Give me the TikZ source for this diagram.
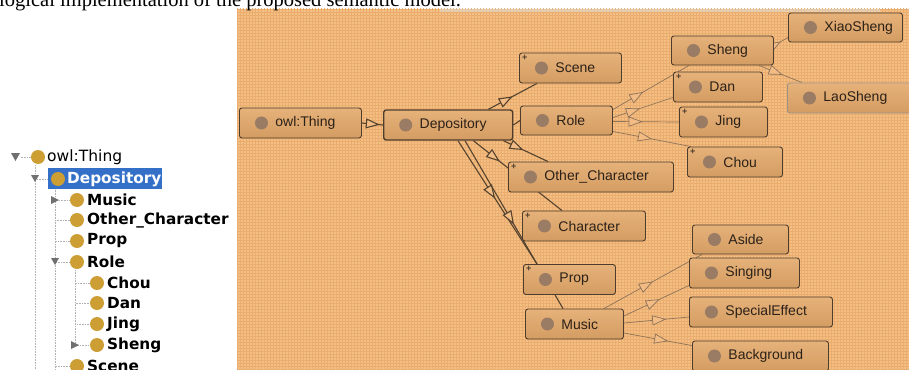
\documentclass[tikz,border=0pt]{standalone}
\usepackage{fontspec}
\usepackage{tikz}
\usetikzlibrary{arrows.meta,calc,decorations.markings,patterns,backgrounds}
\newfontfamily\capfont{Liberation Serif}
\newfontfamily\treefont{DejaVu Sans}
\newfontfamily\boxfont{Liberation Sans}
\definecolor{panelorange}{HTML}{F5BE82}
\definecolor{gridorange}{HTML}{E9AD70}
\definecolor{boxtop}{HTML}{E6B27A}
\definecolor{boxbot}{HTML}{D39C62}
\definecolor{boxline}{HTML}{4E3C2C}
\definecolor{boxtext}{HTML}{2C2118}
\definecolor{dotbrown}{HTML}{9A7C64}
\definecolor{linkdark}{HTML}{55432F}
\definecolor{linklight}{HTML}{8E735A}
\definecolor{trifill}{HTML}{F2BC84}
\definecolor{treegold}{HTML}{CC9E33}
\definecolor{selblue}{HTML}{3470C8}
\definecolor{treegray}{HTML}{707070}

\begin{document}
\begin{tikzpicture}[
  x=1pt, y=-1pt,
  ogbox/.style={
    draw=boxline,
    top color=boxtop,
    bottom color=boxbot,
    rounded corners=2.5pt,
    line width=0.9pt,
    anchor=west,
    minimum height=30pt,
    inner xsep=0pt,
    text width=#1,
    align=left,
    font=\boxfont\fontsize{14}{16}\selectfont,
    text=boxtext,
    execute at begin node={\hspace*{36pt}},
    path picture={
      \fill[dotbrown] ([xshift=22pt]path picture bounding box.west) circle (6.5pt);
    }
  },
  plusbox/.style={
    label={[anchor=north west, inner sep=1pt, xshift=2pt, yshift=-1pt,
            font=\boxfont\bfseries\fontsize{9}{9}\selectfont, text=boxline]north west:+}
  },
  isa/.style={
    draw=linkdark,
    line width=1.1pt,
    postaction={decorate},
    decoration={markings,
      mark=at position #1 with {\arrow{Triangle[width=10pt,length=14pt,fill=trifill]}}}
  },
  isa/.default=0.5,
  isalight/.style={isa=#1, draw=linklight, line width=0.7pt},
  isalight/.default=0.5,
  tdot/.style={circle, fill=treegold, minimum size=14pt, inner sep=0pt},
  tlbl/.style={anchor=west, inner sep=0pt, text=black,
    font=\treefont\bfseries\fontsize{15.3}{17}\selectfont},
  tline/.style={draw=gray!60, densely dotted, line width=0.6pt}
]
\useasboundingbox (0,0) rectangle (909,369);
\clip (0,0) rectangle (909,369);

% caption line cut at the top
\node[anchor=base west, inner sep=0pt, font=\capfont\fontsize{20.5}{22}\selectfont]
  (caption) at (-1,7) {logical implementation of the proposed semantic model.};

% ---------------- class tree (left) ----------------
\coordinate (vthing) at (35,165);
\coordinate (vthingend) at (35,369);
\coordinate (vdep) at (55,188);
\coordinate (vdepend) at (55,369);
\coordinate (vrole) at (75,270);

\fill[selblue] (48,168) rectangle (162,189);

\node[tdot] (tthing) at (38,157) {};
\node[tlbl, font=\treefont\fontsize{15.5}{17}\selectfont] (tthinglbl) at (47,157) {owl:Thing};
\node[tdot] (tdep) at (58,179) {};
\node[tlbl, text=white] (tdeplbl) at (67,179) {Depository};

\node[tdot] (tmusic) at (77,200) {};
\node[tlbl] (tmusiclbl) at (87,200) {Music};
\node[tdot] (tother) at (77,220) {};
\node[tlbl] (totherlbl) at (87,220) {Other\_Character};
\node[tdot] (tprop) at (77,241) {};
\node[tlbl] (tproplbl) at (87,241) {Prop};
\node[tdot] (trole) at (77,262) {};
\node[tlbl] (trolelbl) at (87,262) {Role};
\node[tdot] (tchou) at (97,283) {};
\node[tlbl] (tchoulbl) at (107,283) {Chou};
\node[tdot] (tdan) at (97,303) {};
\node[tlbl] (tdanlbl) at (107,303) {Dan};
\node[tdot] (tjing) at (97,324) {};
\node[tlbl] (tjinglbl) at (107,324) {Jing};
\node[tdot] (tsheng) at (97,345) {};
\node[tlbl] (tshenglbl) at (107,345) {Sheng};
\node[tdot] (tscene) at (77,366) {};
\node[tlbl] (tscenelbl) at (87,366) {Scene};

\begin{scope}[on background layer]
\draw[tline] (tthing.west) -- ++(-11,0);
\draw[tline] (vthing) -- (vthingend);
\draw[tline] (vthing) |- (tdep.west);
\draw[tline] (vdep) -- (vdepend);
\foreach \k in {tmusic,tother,tprop,trole,tscene}
  \draw[tline] (vdep) |- (\k.west);
\draw[tline] (vrole) -- (vrole |- tsheng);
\foreach \k in {tchou,tdan,tjing,tsheng}
  \draw[tline] (vrole) |- (\k.west);
\end{scope}

% expand / collapse handles
\fill[treegray] (11,153) -- (20,153) -- (15.5,161) -- cycle;
\fill[treegray] (31,175) -- (39,175) -- (35,182) -- cycle;
\fill[treegray] (51,196) -- (59,200) -- (51,204) -- cycle;
\fill[treegray] (51,258) -- (59,258) -- (55,265) -- cycle;
\fill[treegray] (71,341) -- (79,345) -- (71,349) -- cycle;

% ---------------- OntoGraf view (right) ----------------
\begin{scope}[on background layer]
\fill[panelorange] (237,9) rectangle (909,369);
\fill[pattern=grid, pattern color=gridorange] (237,9) rectangle (909,369);
\fill[gray!25, opacity=0.5] (440,9) rectangle (880,12);
\end{scope}

% class boxes
\node[ogbox=122pt] (thing) at (239,123) {owl:Thing};
\node[ogbox=129pt, line width=1.4pt] (dep) at (383,125) {Depository};
\node[ogbox=102pt, plusbox] (scene) at (519,68) {Scene};
\node[ogbox=92pt, minimum height=29pt] (role) at (520,120.5) {Role};
\node[ogbox=165pt, plusbox] (other) at (508,177) {Other\_Character};
\node[ogbox=123pt, plusbox] (char) at (522,226) {Character};
\node[ogbox=92pt, plusbox] (prop) at (523,279.5) {Prop};
\node[ogbox=98pt] (music) at (525,324) {Music};

\node[ogbox=102pt, minimum height=29pt] (sheng) at (671,50.5) {Sheng};
\node[ogbox=89pt, plusbox] (dan) at (673,87) {Dan};
\node[ogbox=88pt, plusbox] (jing) at (679,122) {Jing};
\node[ogbox=95pt, plusbox] (chou) at (687,162) {Chou};
\node[ogbox=114pt, minimum height=29pt] (xiao) at (788,27.5) {XiaoSheng};
\node[ogbox=124pt, draw=boxline!55] (lao) at (787,98) {LaoSheng};

\node[ogbox=96pt, minimum height=29pt] (aside) at (692,239.5) {Aside};
\node[ogbox=110pt] (singing) at (689,273) {Singing};
\node[ogbox=143pt] (special) at (689,312) {SpecialEffect};
\node[ogbox=136pt] (bg) at (692,356) {Background};

% subclass links (behind the boxes)
\begin{scope}[on background layer]
\draw[isa=0.85] (thing.east) -- (dep.west);
\draw[isa=0.5] ($(dep.north east)+(-25,0)$) -- ($(scene.south west)+(18,0)$);
\draw[linkdark, line width=1.1pt] (dep.east) -- (role.west);
\draw[isa=0.45] ($(dep.south east)+(-10,0)$) -- ($(other.north west)+(40,0)$);
\draw[isa=0.3] ($(dep.south east)+(-40,0)$) -- ($(char.north west)+(40,0)$);
\draw[isa=0.47] ($(dep.south west)+(75,0)$) -- ($(prop.north west)+(14,0)$);
\draw[isa=0.5] ($(dep.south west)+(82,0)$) -- ($(music.north west)+(38,0)$);

\draw[isalight=0.4] ($(role.north east)+(0,4)$) -- ($(sheng.south west)+(18,0)$);
\draw[isalight=0.45] ($(role.east)+(0,-3)$) -- ($(dan.south west)+(0,-5)$);
\draw[isalight=0.45] ($(role.east)+(0,1)$) -- (jing.west);
\draw[isalight=0.5] ($(role.south east)+(0,-4)$) -- ($(chou.north west)+(4,0)$);

\draw[isalight=0.5] ($(sheng.north east)+(0,10)$) -- ($(xiao.south west)+(0,-5)$);
\draw[isalight=0.55] ($(sheng.south east)+(-15,0)$) -- ($(lao.north west)+(15,0)$);

\draw[isalight=0.5] ($(music.north east)+(-20,0)$) -- ($(aside.south west)+(10,0)$);
\draw[isalight=0.55] ($(music.east)+(0,-8)$) -- ($(singing.south west)+(0,-3)$);
\draw[isalight=0.65] ($(music.east)+(0,-1)$) -- ($(special.west)+(0,5)$);
\draw[isalight=0.65] ($(music.east)+(0,9)$) -- ($(bg.north west)+(0,5)$);
\end{scope}
\end{tikzpicture}
\end{document}
